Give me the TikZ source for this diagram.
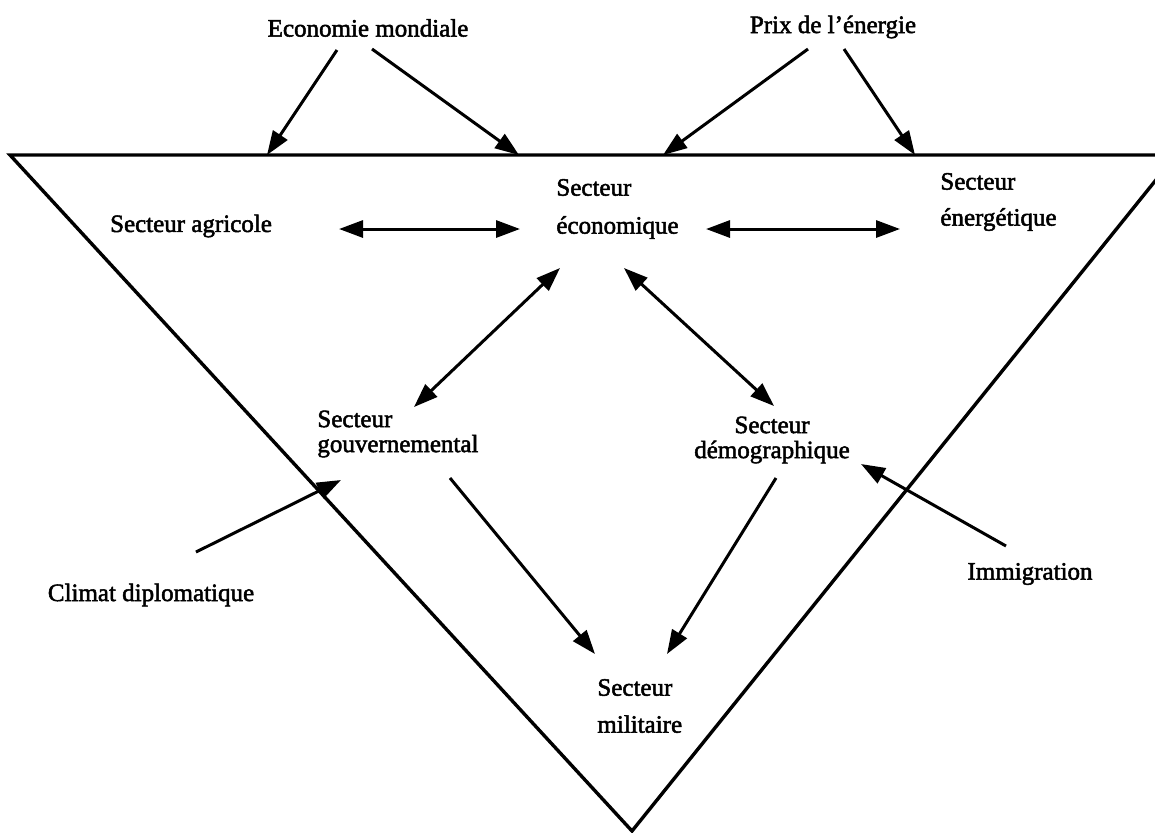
\documentclass[tikz,border=0pt]{standalone}
\usepackage{fontspec}
\setmainfont{Liberation Serif}
\newfontfamily\scanfont{Liberation Serif}[Ligatures=TeX, FakeBold=2]
\usetikzlibrary{arrows.meta}

\begin{document}
\begin{tikzpicture}[
        x=0.5pt, y=-0.5pt,
        >={Triangle[length=12pt, width=8.5pt]},
        lbl/.style={font=\scanfont\fontsize{12.5}{15}\selectfont, inner sep=0pt},
        sect/.style={lbl, align=left, anchor=west},
        edge/.style={line width=1.7pt, line join=miter},
        arrow/.style={->, line width=1.5pt},
        dblarrow/.style={<->, line width=1.5pt},
    ]
    \useasboundingbox (0,0) rectangle (1155,832);

    % === TRIANGLE ===
    \draw[edge] (10,155) -- (1176,155) -- (632,831) -- cycle;

    % points on the top edge
    \coordinate (t1) at (267,155);
    \coordinate (t2) at (519,155);
    \coordinate (t3) at (663,155);
    \coordinate (t4) at (915,155);

    % === OUTSIDE FACTORS ===
    \node[lbl] (emond) at (368,28) {Economie mondiale};
    \node[lbl] (prix) at (833,27) {Prix de l’énergie};
    \node[lbl] (climat) at (151,595) {Climat diplomatique};
    \node[lbl] (immig) at (1030,574) {Immigration};

    % === SECTORS ===
    \node[lbl] (agri) at (191,226) {Secteur agricole};
    \node[sect] (econ) at (556,209) {Secteur\\[4pt]économique};
    \node[sect] (energ) at (940,202) {Secteur\\[3pt]énergétique};
    \node[sect] (gouv) at (317,434) {Secteur\\[-2.5pt]gouvernemental};
    \node[lbl, align=center] (demo) at (772,440) {Secteur\\[-2.5pt]démographique};
    \node[sect] (mil) at (597,706) {Secteur\\[3.5pt]militaire};

    % === ARROWS ===
    \draw[arrow] ([shift={(-31,22)}]emond.center) -- (t1);
    \draw[arrow] ([shift={(4,21)}]emond.center) -- (t2);
    \draw[arrow] ([shift={(-25,22)}]prix.center) -- (t3);
    \draw[arrow] ([shift={(11,22)}]prix.center) -- (t4);

    % between sectors
    \draw[dblarrow] ([shift={(148,3)}]agri.center) -- ([shift={(-36,20)}]econ.west);
    \draw[dblarrow] ([shift={(150,20)}]econ.west) -- ([shift={(-40,27)}]energ.west);
    \draw[dblarrow] ([shift={(4,59)}]econ.west) -- ([shift={(97,-27)}]gouv.west);
    \draw[dblarrow] ([shift={(68,59)}]econ.west) -- ([shift={(2,-34)}]demo.center);
    \draw[arrow] ([shift={(133,44)}]gouv.west) -- ([shift={(-2,-52)}]mil.west);
    \draw[arrow] ([shift={(4,38)}]demo.center) -- ([shift={(70,-52)}]mil.west);

    % outside influences
    \draw[arrow] ([shift={(45,-43)}]climat.center) -- ([shift={(24,46)}]gouv.west);
    \draw[arrow] ([shift={(-24,-28)}]immig.center) -- ([shift={(89,24)}]demo.center);

\end{tikzpicture}
\end{document}
